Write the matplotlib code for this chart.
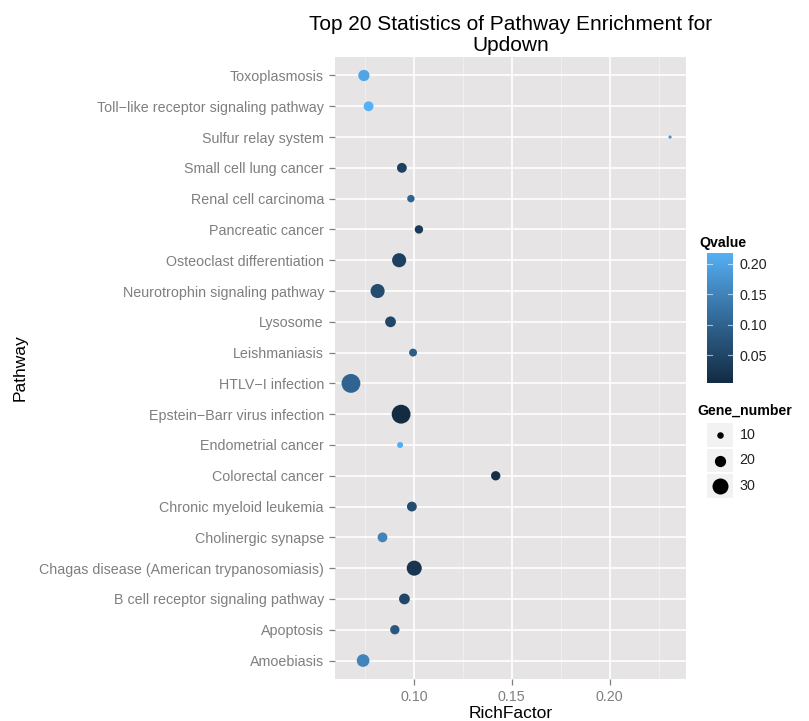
import matplotlib
matplotlib.use("Agg")
import matplotlib.pyplot as plt
import numpy as np
from matplotlib.colors import LinearSegmentedColormap, Normalize

plt.rcParams['font.family'] = ['Liberation Sans', 'DejaVu Sans']

# Pathway enrichment results (bottom-to-top order on the y axis)
pathways = [
    "Amoebiasis", "Apoptosis", "B cell receptor signaling pathway",
    "Chagas disease (American trypanosomiasis)", "Cholinergic synapse",
    "Chronic myeloid leukemia", "Colorectal cancer", "Endometrial cancer",
    "Epstein\u2212Barr virus infection", "HTLV\u2212I infection", "Leishmaniasis",
    "Lysosome", "Neurotrophin signaling pathway", "Osteoclast differentiation",
    "Pancreatic cancer", "Renal cell carcinoma", "Small cell lung cancer",
    "Sulfur relay system", "Toll\u2212like receptor signaling pathway", "Toxoplasmosis",
]
rich_factor = [0.0741, 0.0903, 0.0952, 0.1002, 0.0840, 0.0990, 0.1418, 0.0930,
               0.0935, 0.0679, 0.0996, 0.0881, 0.0815, 0.0925, 0.1026, 0.0985,
               0.0939, 0.2308, 0.0769, 0.0745]
qvalue = [0.150, 0.080, 0.050, 0.020, 0.150, 0.060, 0.012, 0.210,
          0.004, 0.100, 0.090, 0.050, 0.060, 0.040, 0.030, 0.100,
          0.040, 0.170, 0.218, 0.200]
gene_number = [23, 16, 19, 28, 17, 17, 16, 9,
               36, 36, 13, 19, 26, 26, 14, 12,
               17, 3, 17, 20]
size_breaks = [10, 20, 30]
q_ticks = [0.05, 0.10, 0.15, 0.20]
x_ticks = [0.10, 0.15, 0.20]

W, H = 809, 721
DPI = 100
fig = plt.figure(figsize=(W / DPI, H / DPI), dpi=DPI)


def rect(x0, y0, x1, y1):
    # pixel box (top-left origin) -> figure fraction [l, b, w, h]
    return [x0 / W, 1 - y1 / H, (x1 - x0) / W, (y1 - y0) / H]


def marker_area(n):
    d_px = 1.75 + 0.475 * np.asarray(n, dtype=float)
    return (d_px * 72.0 / DPI) ** 2


cmap = LinearSegmentedColormap.from_list("qv", ["#132B43", "#336A98", "#56B1F7"])
norm = Normalize(vmin=min(qvalue), vmax=max(qvalue))

grey_txt = "#7F7F7F"
ax = fig.add_axes(rect(335, 57, 686, 679))
ax.set_facecolor("#E6E4E5")
for s in ax.spines.values():
    s.set_visible(False)

ypos = np.arange(len(pathways))
ax.scatter(rich_factor, ypos, s=marker_area(gene_number), c=qvalue,
           cmap=cmap, norm=norm, linewidths=0, zorder=3)

xmin, xmax = min(rich_factor), max(rich_factor)
pad = 0.05 * (xmax - xmin)
ax.set_xlim(xmin - pad, xmax + pad)
ax.set_ylim(-0.6, len(pathways) - 0.4)

ax.set_xticks(x_ticks)
ax.set_xticklabels([f"{t:.2f}" for t in x_ticks])
ax.set_xticks([0.075, 0.125, 0.175, 0.225], minor=True)
ax.set_yticks(ypos)
ax.set_yticklabels(pathways)
ax.grid(which="major", color="white", linewidth=1.2, zorder=1)
ax.grid(which="minor", axis="x", color="#F2F2F2", linewidth=0.6, zorder=1)
ax.set_axisbelow(True)
ax.tick_params(axis="both", which="major", length=4, width=0.9, color=grey_txt,
               labelcolor=grey_txt, labelsize=10.3, pad=4)
ax.tick_params(axis="both", which="minor", length=0)

ax.set_xlabel("RichFactor", fontsize=12.5, labelpad=1)
ax.set_ylabel("Pathway", fontsize=12.5, labelpad=8)
ax.set_title("Top 20 Statistics of Pathway Enrichment for\nUpdown",
             fontsize=15, linespacing=1.15, pad=4)

# Qvalue colour bar
fig.text(699 / W, 1 - 243 / H, "Qvalue", fontsize=10.2, fontweight="bold",
         va="center", ha="left")
cax = fig.add_axes(rect(707, 253, 733, 383))
grad = np.linspace(norm.vmin, norm.vmax, 256).reshape(-1, 1)
cax.imshow(grad, aspect="auto", cmap=cmap, norm=norm, origin="lower",
           extent=[0, 1, norm.vmin, norm.vmax])
cax.set_xlim(0, 1)
cax.set_ylim(norm.vmin, norm.vmax)
for t in q_ticks:
    cax.plot([0, 0.2], [t, t], color="white", lw=0.8, alpha=0.6)
    cax.plot([0.8, 1], [t, t], color="white", lw=0.8, alpha=0.6)
cax.set_xticks([])
cax.yaxis.tick_right()
cax.set_yticks(q_ticks)
cax.set_yticklabels([f"{t:.2f}" for t in q_ticks])
cax.tick_params(axis="y", length=0, labelsize=10.3, pad=5, labelcolor="#222222")
for s in cax.spines.values():
    s.set_visible(False)

# Gene_number size legend
fig.text(697 / W, 1 - 411 / H, "Gene_number", fontsize=10.2, fontweight="bold",
         va="center", ha="left")
lax = fig.add_axes(rect(707, 422, 733, 499))
lax.set_xlim(0, 1)
lax.set_ylim(len(size_breaks), 0)
lax.axis("off")
for i, n in enumerate(size_breaks):
    lax.add_patch(plt.Rectangle((0, i + 0.04), 1, 0.92, color="#F2F2F2", lw=0))
    lax.scatter([0.5], [i + 0.5], s=marker_area(n), color="black", linewidths=0)
    lax.text(1.25, i + 0.5, str(n), fontsize=10.3, va="center", ha="left",
             color="#222222")

fig.savefig("out.png", dpi=DPI)
